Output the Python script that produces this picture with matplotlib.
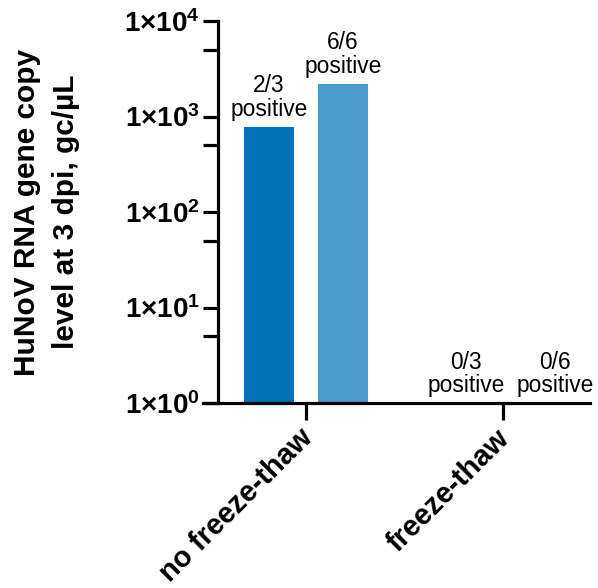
import math
import matplotlib
matplotlib.use("Agg")
import matplotlib.pyplot as plt
from matplotlib.ticker import FixedLocator, FuncFormatter
from matplotlib.transforms import ScaledTranslation

# group labels, per-bar values and positivity counts
groups = ["no freeze-thaw", "freeze-thaw"]
week_a = [780, 0]      # first bar of each group
week_b = [2200, 0]     # second bar of each group
labels_a = ["2/3\npositive", "0/3\npositive"]
labels_b = ["6/6\npositive", "0/6\npositive"]
colors = ["#0071b7", "#4b9bcd"]

plt.rcParams["font.family"] = ["Liberation Sans", "DejaVu Sans"]
plt.rcParams["mathtext.fontset"] = "custom"
plt.rcParams["mathtext.rm"] = "Liberation Sans:bold"
plt.rcParams["mathtext.bf"] = "Liberation Sans:bold"
plt.rcParams["mathtext.it"] = "Liberation Sans:bold"

fig = plt.figure(figsize=(5.98, 5.88), dpi=100)
ax = fig.add_axes([218 / 598, 1 - 403 / 588, (590 - 218) / 598, (403 - 21) / 588])

offset = 0.1878
width = 0.254
xs = range(len(groups))
ymin = 1

for i, (va, vb) in enumerate(zip(week_a, week_b)):
    for x, v, lab, c in ((i - offset, va, labels_a[i], colors[0]),
                         (i + offset, vb, labels_b[i], colors[1])):
        if v > 0:
            ax.bar(x, v - ymin, width=width, bottom=ymin, color=c, linewidth=0)
        # keep the right-most label inside the figure
        dx = 11 if (i == len(groups) - 1 and x > i) else 0
        ax.annotate(lab, (x, max(v, ymin)), xytext=(dx, 4), textcoords="offset points",
                    ha="center", va="bottom", fontsize=16.4, linespacing=1.05)

ax.set_yscale("log")
ax.set_ylim(1, 1e4)
ax.set_xlim(-0.4467, 1.4416)

ax.yaxis.set_major_locator(FixedLocator([1, 10, 100, 1000, 10000]))
ax.yaxis.set_minor_locator(FixedLocator([5, 50, 500, 5000]))
ax.yaxis.set_major_formatter(
    FuncFormatter(lambda v, p: r"$1{\times}10^{%d}$" % round(math.log10(v))))
ax.yaxis.set_minor_formatter(FuncFormatter(lambda v, p: ""))

for s in ("top", "right"):
    ax.spines[s].set_visible(False)
for s in ("left", "bottom"):
    ax.spines[s].set_linewidth(2.3)
ax.spines["bottom"].set_bounds(-0.523, 1.4416)

ax.tick_params(axis="y", which="major", length=11, width=2.3, labelsize=20, pad=2)
ax.tick_params(axis="y", which="minor", length=11, width=2.3)
ax.tick_params(axis="x", length=12, width=2.3, pad=3)

ax.set_xticks(list(xs))
ax.set_xticklabels(groups, rotation=45, ha="right", rotation_mode="anchor",
                   fontsize=21, fontweight="bold")
# nudge the slanted labels a little to the left of their ticks
shift = ScaledTranslation(-0.08, 0, fig.dpi_scale_trans)
for lbl in ax.get_xticklabels():
    lbl.set_transform(lbl.get_transform() + shift)

ax.set_ylabel("HuNoV RNA gene copy\nlevel at 3 dpi, gc/µL", fontsize=21.5,
              fontweight="bold", labelpad=32, linespacing=1.5)

fig.savefig("out.png", dpi=100)
